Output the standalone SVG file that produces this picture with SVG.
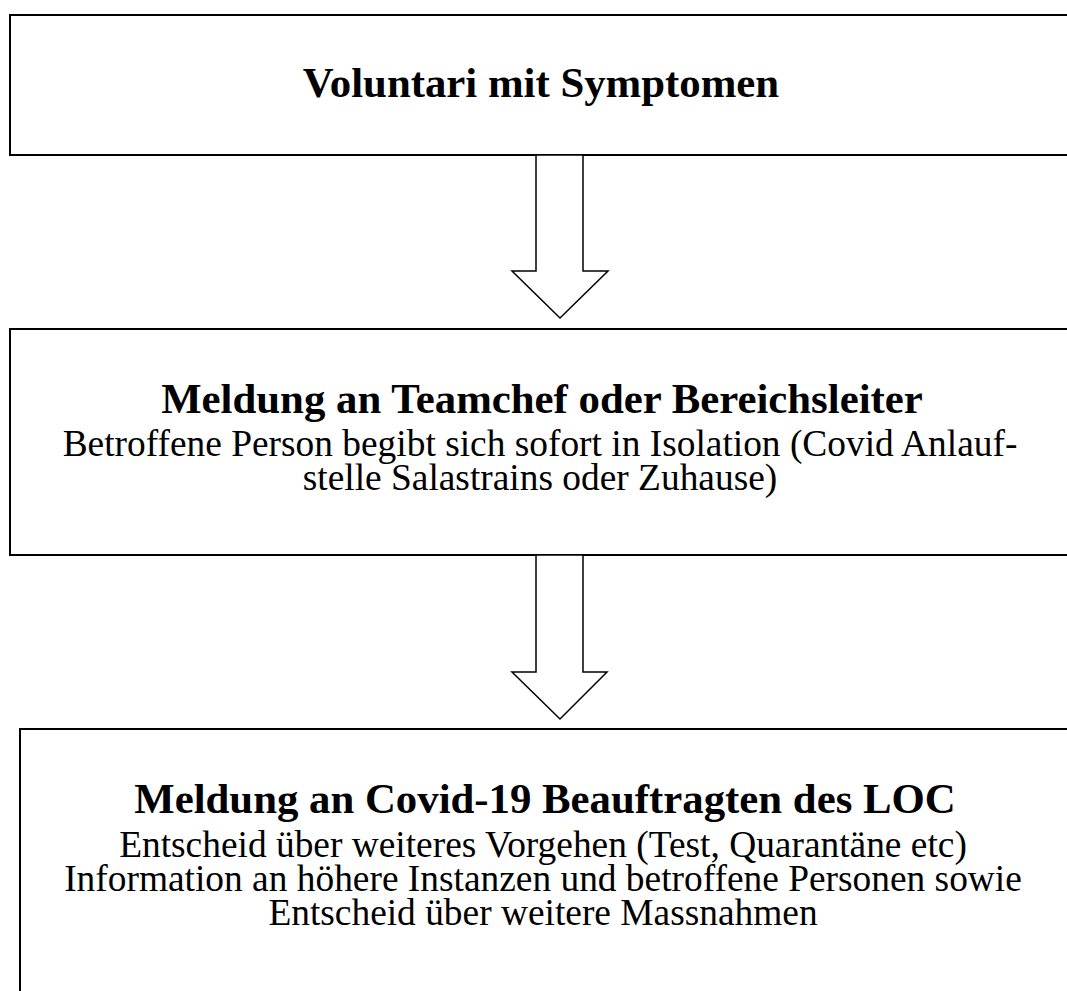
<svg xmlns="http://www.w3.org/2000/svg" width="1067" height="991" viewBox="0 0 1067 991">
<style>
.box{fill:#fff;stroke:#000;stroke-width:2}
.arrow{fill:#fff;stroke:#000;stroke-width:1.5;stroke-linejoin:miter}
.t{font-family:"Liberation Serif","Times New Roman",serif;fill:#000;text-anchor:middle}
.b{font-weight:bold;font-size:42.8px}
.r{font-size:37.4px}
</style>
<rect width="1067" height="991" fill="#fff"/>
<g id="node1">
<rect class="box" x="10" y="15" width="1080" height="140"/>
<text class="t b" x="541" y="97">Voluntari mit Symptomen</text>
</g>
<g id="node2">
<rect class="box" x="10" y="329" width="1080" height="226"/>
<text class="t b" x="542" y="413">Meldung an Teamchef oder Bereichsleiter</text>
<text class="t r" x="540" y="456">Betroffene Person begibt sich sofort in Isolation (Covid Anlauf-</text>
<text class="t r" x="540" y="490">stelle Salastrains oder Zuhause)</text>
</g>
<g id="node3">
<rect class="box" x="20" y="729" width="1080" height="300"/>
<text class="t b" x="545" y="813">Meldung an Covid-19 Beauftragten des LOC</text>
<text class="t r" x="543" y="857">Entscheid über weiteres Vorgehen (Test, Quarantäne etc)</text>
<text class="t r" x="543" y="891">Information an höhere Instanzen und betroffene Personen sowie</text>
<text class="t r" x="543" y="925">Entscheid über weitere Massnahmen</text>
</g>
<g id="connectors">
<path class="arrow" d="M536,155 L583,155 L583,271 L608,271 L560,318 L512,271 L536,271 Z"/>
<path class="arrow" d="M536,555 L583,555 L583,672 L607,672 L560,719 L512,672 L536,672 Z"/>
</g>
</svg>
